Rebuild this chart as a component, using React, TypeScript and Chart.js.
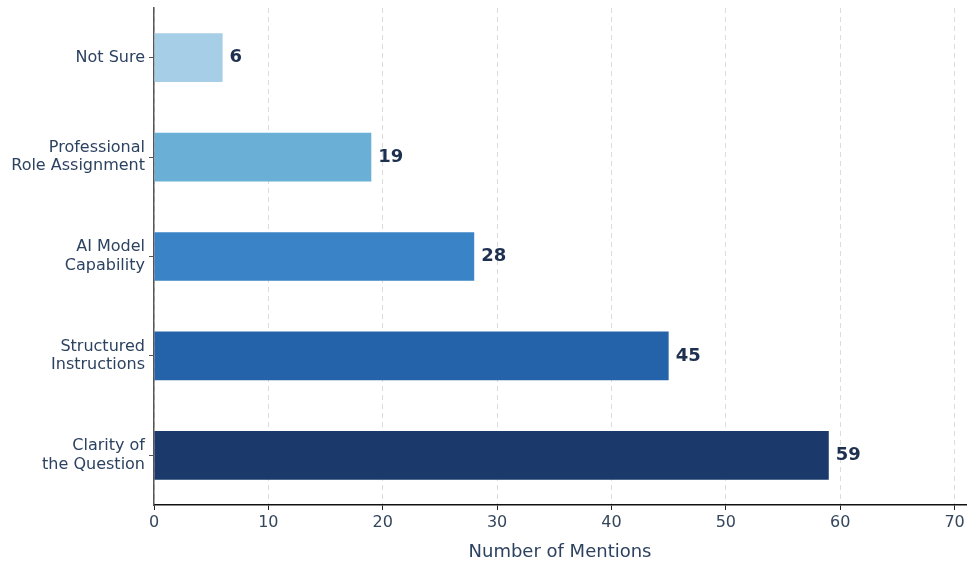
import React, { useEffect, useRef } from "react";
import { Chart, registerables } from "chart.js";

Chart.register(...registerables);

const categories: string[][] = [
  ["Not Sure"],
  ["Professional", "Role Assignment"],
  ["AI Model", "Capability"],
  ["Structured", "Instructions"],
  ["Clarity of", "the Question"],
];
const mentions: number[] = [6, 19, 28, 45, 59];
const barColors: string[] = ["#a6cee6", "#6aafd6", "#3a83c6", "#2463a9", "#1b3a6b"];
const xTicks: number[] = [0, 10, 20, 30, 40, 50, 60, 70];
const xTitle = "Number of Mentions";

const FONT = "'DejaVu Sans', sans-serif";

const valueLabels = {
  id: "valueLabels",
  afterDatasetsDraw(chart: any) {
    const ctx = chart.ctx;
    const meta = chart.getDatasetMeta(0);
    ctx.save();
    ctx.font = `bold 18px ${FONT}`;
    ctx.fillStyle = "#1e3050";
    ctx.textBaseline = "middle";
    ctx.textAlign = "left";
    meta.data.forEach((el: any, i: number) => {
      ctx.fillText(String(mentions[i]), el.x + 7, el.y);
    });
    ctx.restore();
  },
};

export default function App() {
  const ref = useRef<HTMLCanvasElement>(null);
  useEffect(() => {
    document.body.style.margin = "0";
    const chart = new Chart(ref.current!, {
      type: "bar",
      data: {
        labels: categories,
        datasets: [
          {
            data: mentions,
            backgroundColor: barColors,
            borderWidth: 0,
            barPercentage: 0.49,
            categoryPercentage: 1,
          },
        ],
      },
      options: {
        indexAxis: "y",
        responsive: false,
        animation: false,
        layout: { padding: { top: 8, right: 1, left: 0, bottom: 0 } },
        plugins: { legend: { display: false }, tooltip: { enabled: false } },
        scales: {
          x: {
            type: "linear",
            min: 0,
            max: 71,
            afterBuildTicks: (scale: any) => {
              scale.ticks = xTicks.map((v) => ({ value: v }));
            },
            afterFit: (scale: any) => {
              scale.height = 58;
              scale.paddingLeft = 0;
              scale.paddingRight = 0;
            },
            ticks: {
              font: { family: FONT, size: 16 },
              color: "#34465c",
              padding: 3,
            },
            grid: {
              color: "#dcdcdc",
              drawTicks: true,
              tickLength: 5,
              tickColor: "#222",
              tickBorderDash: [],
            } as any,
            border: { display: true, color: "#111", width: 1.5, dash: [5, 4] },
            title: {
              display: true,
              text: xTitle,
              font: { family: FONT, size: 18 },
              color: "#2c4260",
              padding: { top: 2, bottom: 0 },
            },
          },
          y: {
            afterFit: (scale: any) => {
              scale.width = 154;
              scale.paddingTop = 0;
              scale.paddingBottom = 0;
            },
            ticks: {
              font: { family: FONT, size: 16, lineHeight: 1.15 },
              color: "#2c4260",
              padding: 4,
            },
            grid: {
              offset: false,
              drawOnChartArea: false,
              drawTicks: true,
              tickLength: 5,
              tickColor: "#555",
            },
            border: { display: true, color: "#555", width: 1.5 },
          },
        },
      } as any,
      plugins: [valueLabels],
    });
    return () => chart.destroy();
  }, []);
  return (
    <div style={{ width: 967, height: 563, position: "relative", background: "#fff" }}>
      <canvas ref={ref} width={967} height={563} />
    </div>
  );
}
